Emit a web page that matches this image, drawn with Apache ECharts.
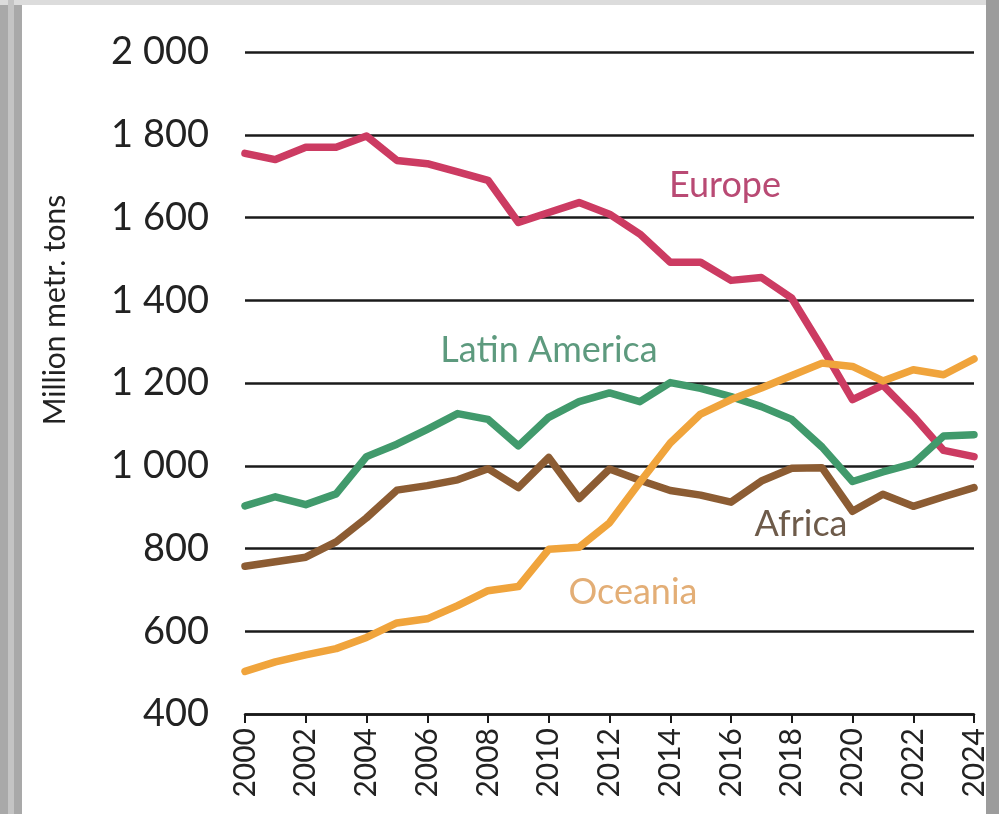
<!DOCTYPE html>
<html><head><meta charset="utf-8">
<script src="https://cdn.jsdelivr.net/npm/echarts@6/dist/echarts.min.js"></script>
<style>html,body{margin:0;padding:0;background:#fff}#c{width:999px;height:814px}</style>
</head><body><div id="c"></div>
<script>
const years = [2000,2001,2002,2003,2004,2005,2006,2007,2008,2009,2010,2011,2012,2013,2014,2015,2016,2017,2018,2019,2020,2021,2022,2023,2024];
const europe = [1755,1740,1770,1770,1797,1738,1730,1710,1690,1588,1612,1636,1608,1560,1492,1492,1448,1455,1405,1285,1160,1195,1120,1037,1022];
const latinAmerica = [903,925,906,932,1022,1052,1088,1126,1112,1048,1117,1155,1176,1155,1201,1187,1167,1143,1112,1045,962,985,1005,1072,1075];
const africa = [757,768,779,816,874,941,952,966,993,947,1020,921,992,965,940,929,912,963,994,995,890,931,902,925,947];
const oceania = [503,526,543,558,585,620,630,662,698,708,798,803,862,960,1055,1125,1160,1188,1218,1248,1240,1205,1232,1220,1258];
const yTicks = [400,600,800,1000,1200,1400,1600,1800,2000];

const FONT = 'Lato, "Noto Sans", sans-serif';
function pairs(vals){ return years.map((y,i)=>[y, vals[i]]); }
function fmtY(v){ return v >= 1000 ? Math.floor(v/1000) + ' ' + String(v%1000).padStart(3,'0') : String(v); }

const chart = echarts.init(document.getElementById('c'), null, {renderer:'canvas'});
const mk = (name, vals, color) => ({
  name, type:'line', data: pairs(vals), symbol:'none', smooth:false,
  lineStyle:{color, width:7.5, join:'round', cap:'round'}, z:3
});
chart.setOption({
  animation:false,
  backgroundColor:'#ffffff',
  grid:{left:245, right:25, top:52, bottom:100},
  xAxis:{
    type:'value', min:2000, max:2024, interval:2,
    axisLine:{show:true, lineStyle:{color:'#1a1a1a', width:2.5}},
    axisTick:{show:true, length:9, lineStyle:{color:'#1a1a1a', width:2}},
    axisLabel:{rotate:90, margin:14, fontSize:30, color:'#222', fontFamily:FONT, formatter:v=>String(v)},
    splitLine:{show:false}
  },
  yAxis:{
    type:'value', min:400, max:2000, interval:200,
    axisLine:{show:false}, axisTick:{show:false},
    axisLabel:{margin:36, fontSize:38, color:'#222', fontFamily:FONT, formatter:fmtY},
    splitLine:{show:true, lineStyle:{color:'#1a1a1a', width:2.5}}
  },
  series:[
    mk('Europe', europe, '#cc3b62'),
    mk('Latin America', latinAmerica, '#419a6c'),
    mk('Africa', africa, '#8c5c33'),
    mk('Oceania', oceania, '#f0a43c')
  ],
  graphic:[
    {type:'rect', shape:{x:0,y:0,width:22,height:814}, style:{fill:'#a9a9a9'}, z:10},
    {type:'rect', shape:{x:8,y:0,width:6,height:814}, style:{fill:'#c4c4c4'}, z:11},
    {type:'rect', shape:{x:0,y:0,width:999,height:5}, style:{fill:'#dcdcdc'}, z:10},
    {type:'rect', shape:{x:986,y:0,width:13,height:814}, style:{fill:'#9c9c9c'}, z:10},
    {type:'text', x:55, y:310, rotation:Math.PI/2, style:{text:'Million metr. tons', fill:'#222', font:'30px '+FONT, textAlign:'center', textVerticalAlign:'middle'}, z:5},
    {type:'text', x:725, y:185, style:{text:'Europe', fill:'#b94a74', font:'36px '+FONT, textAlign:'center', textVerticalAlign:'middle'}, z:5},
    {type:'text', x:549, y:350, style:{text:'Latin America', fill:'#5d9a7e', font:'36px '+FONT, textAlign:'center', textVerticalAlign:'middle'}, z:5},
    {type:'text', x:801, y:524, style:{text:'Africa', fill:'#6e5b4a', font:'36px '+FONT, textAlign:'center', textVerticalAlign:'middle'}, z:5},
    {type:'text', x:633, y:592, style:{text:'Oceania', fill:'#e3ae76', font:'36px '+FONT, textAlign:'center', textVerticalAlign:'middle'}, z:5}
  ]
});
</script></body></html>
